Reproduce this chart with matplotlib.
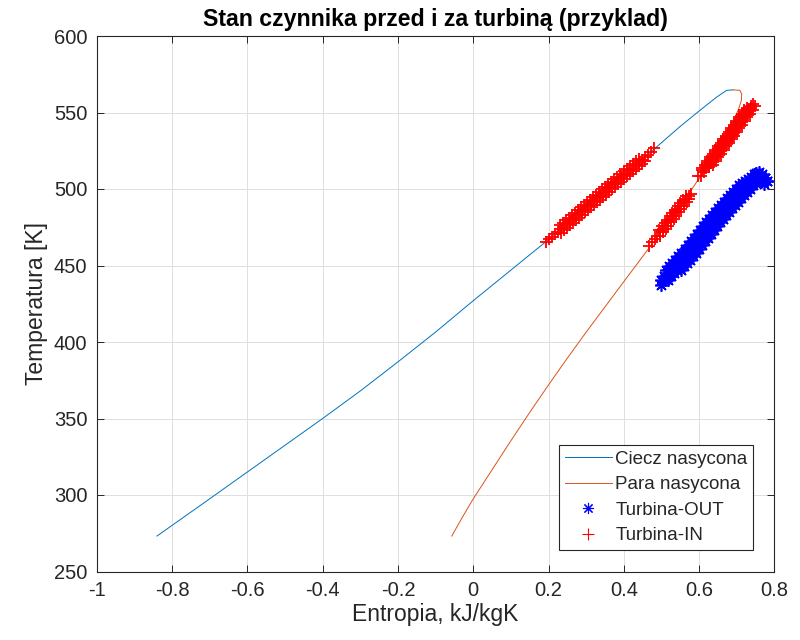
import matplotlib
matplotlib.use("Agg")
import matplotlib.pyplot as plt

plt.rcParams['font.family'] = ['Liberation Sans', 'DejaVu Sans']

# ---- saturated liquid / vapour curves ----
s_liq = [-0.84, -0.70, -0.60, -0.50, -0.40, -0.30, -0.20, -0.10, 0.00, 0.10,
         0.20, 0.30, 0.40, 0.48, 0.55, 0.60, 0.646, 0.673, 0.69]
T_liq = [273.15, 297.5, 315, 332.5, 350, 368, 387, 406.5, 427, 447,
         467, 488, 509, 526, 541, 551, 560, 564.5, 564.8]

s_vap = [-0.057, -0.03, 0.00, 0.05, 0.10, 0.15, 0.20, 0.25, 0.30, 0.35,
         0.40, 0.47, 0.52, 0.56, 0.60, 0.65, 0.69, 0.705, 0.712, 0.713,
         0.708, 0.69]
T_vap = [273.15, 285, 297.5, 316.5, 335.5, 354, 372, 389.5, 406.5, 423,
         439.5, 462.5, 479, 492.5, 507, 527, 544, 552.5, 558, 562,
         564.5, 564.8]

# ---- Turbina-OUT (blue asterisks) ----
s_out = [
    # centre row
    0.498, 0.508, 0.516, 0.524, 0.532, 0.540, 0.548, 0.556, 0.564, 0.572,
    0.580, 0.588, 0.596, 0.604, 0.612, 0.620, 0.628, 0.636, 0.644, 0.652,
    0.660, 0.668, 0.676, 0.684, 0.692, 0.700, 0.708, 0.716, 0.724, 0.732,
    0.740, 0.748, 0.756, 0.764,
    # inner left row
    0.499, 0.507, 0.515, 0.523, 0.531, 0.539, 0.547, 0.555, 0.563, 0.571,
    0.579, 0.587, 0.595, 0.603, 0.611, 0.619, 0.627, 0.635, 0.643, 0.651,
    0.659, 0.667, 0.675, 0.683, 0.691, 0.699, 0.707, 0.715, 0.723, 0.731,
    0.739, 0.747, 0.755,
    # inner right row
    0.517, 0.525, 0.533, 0.541, 0.549, 0.557, 0.565, 0.573, 0.581, 0.589,
    0.597, 0.605, 0.613, 0.621, 0.629, 0.637, 0.645, 0.653, 0.661, 0.669,
    0.677, 0.685, 0.693, 0.701, 0.709, 0.717, 0.725, 0.733, 0.741, 0.749,
    0.757, 0.765, 0.773,
    # outer left row
    0.513, 0.521, 0.529, 0.537, 0.545, 0.553, 0.561, 0.569, 0.577,
    0.585, 0.593, 0.601, 0.609, 0.617, 0.625, 0.633, 0.641, 0.649, 0.657,
    0.665, 0.673, 0.681, 0.689, 0.697, 0.705, 0.713, 0.721, 0.729, 0.737,
    0.745,
    # outer right row
    0.551, 0.559, 0.567, 0.575, 0.583, 0.591, 0.599, 0.607, 0.615,
    0.623, 0.631, 0.639, 0.647, 0.655, 0.663, 0.671, 0.679, 0.687, 0.695,
    0.703, 0.711, 0.719, 0.727, 0.735, 0.743, 0.751, 0.759, 0.767, 0.775,
    0.780,
    # rounded top end
    0.745, 0.752, 0.760, 0.768, 0.775, 0.780, 0.772, 0.764,
]
T_out = [
    437.5, 440.5, 443.0, 445.0, 447.2, 449.4, 451.6, 453.8, 456.0, 458.2,
    460.5, 463.2, 465.7, 468.3, 470.9, 473.4, 476.0, 478.3, 480.5, 482.8,
    485.1, 487.3, 489.6, 491.8, 494.0, 496.1, 498.2, 500.3, 502.5, 504.0,
    505.3, 506.7, 508.0, 507.0,
    440.5, 443.0, 445.0, 447.2, 449.4, 451.6, 453.8, 456.0, 458.2, 460.5,
    463.2, 465.7, 468.3, 470.9, 473.4, 476.0, 478.3, 480.5, 482.8, 485.1,
    487.3, 489.6, 491.8, 494.0, 496.1, 498.2, 500.3, 502.5, 504.0, 505.3,
    506.7, 508.0, 507.0,
    440.5, 443.0, 445.0, 447.2, 449.4, 451.6, 453.8, 456.0, 458.2, 460.5,
    463.2, 465.7, 468.3, 470.9, 473.4, 476.0, 478.3, 480.5, 482.8, 485.1,
    487.3, 489.6, 491.8, 494.0, 496.1, 498.2, 500.3, 502.5, 504.0, 505.3,
    506.7, 508.0, 507.0,
    447.2, 449.4, 451.6, 453.8, 456.0, 458.2, 460.5, 463.2, 465.7,
    468.3, 470.9, 473.4, 476.0, 478.3, 480.5, 482.8, 485.1, 487.3, 489.6,
    491.8, 494.0, 496.1, 498.2, 500.3, 502.5, 504.0, 505.3, 506.7, 508.0,
    507.0,
    447.2, 449.4, 451.6, 453.8, 456.0, 458.2, 460.5, 463.2, 465.7,
    468.3, 470.9, 473.4, 476.0, 478.3, 480.5, 482.8, 485.1, 487.3, 489.6,
    491.8, 494.0, 496.1, 498.2, 500.3, 502.5, 504.0, 505.3, 506.7, 507.5,
    505.5,
    509.5, 510.5, 511.0, 510.0, 507.5, 505.0, 503.0, 504.5,
]

# ---- Turbina-IN (red pluses) ----
s_in = [
    # cluster on liquid line, row A
    0.192, 0.200, 0.208, 0.216, 0.224, 0.232, 0.240, 0.248, 0.256, 0.264,
    0.272, 0.280, 0.288, 0.296, 0.304, 0.312, 0.320, 0.328, 0.336, 0.344,
    0.352, 0.360, 0.368, 0.376, 0.384, 0.392, 0.400, 0.408, 0.416, 0.424,
    0.432, 0.440, 0.448, 0.456, 0.464, 0.472, 0.480,
    # row B (lower right)
    0.233, 0.241, 0.249, 0.257, 0.265, 0.273, 0.281, 0.289, 0.297, 0.305,
    0.313, 0.321, 0.329, 0.337, 0.345, 0.353, 0.361, 0.369, 0.377, 0.385,
    0.393, 0.401, 0.409, 0.417, 0.425, 0.433, 0.441, 0.449, 0.457,
    # row C (upper left)
    0.231, 0.239, 0.247, 0.255, 0.263, 0.271, 0.279, 0.287, 0.295, 0.303,
    0.311, 0.319, 0.327, 0.335, 0.343, 0.351, 0.359, 0.367, 0.375, 0.383,
    0.391, 0.399, 0.407, 0.415, 0.423, 0.431, 0.439,
    # cluster on vapour line
    0.468, 0.475, 0.482, 0.489, 0.496, 0.503, 0.510, 0.517, 0.524, 0.531,
    0.538, 0.545, 0.552, 0.559, 0.566, 0.573, 0.578,
    0.497, 0.504, 0.511, 0.518, 0.525, 0.532, 0.539, 0.546, 0.553, 0.560,
    0.567, 0.574,
    0.494, 0.501, 0.508, 0.515, 0.522, 0.529, 0.536, 0.543, 0.550, 0.557,
    0.564,
    # superheated cluster, centre row
    0.598, 0.605, 0.612, 0.619, 0.626, 0.633, 0.640, 0.647, 0.654, 0.661,
    0.668, 0.675, 0.682, 0.689, 0.696, 0.703, 0.710, 0.717, 0.724, 0.731,
    0.738, 0.744,
    # superheated cluster, left row
    0.608, 0.615, 0.622, 0.629, 0.636, 0.643, 0.650, 0.657, 0.664, 0.671,
    0.678, 0.685, 0.692, 0.699, 0.706, 0.713, 0.720,
    # superheated cluster, right row
    0.637, 0.644, 0.651, 0.658, 0.665, 0.672, 0.679, 0.686, 0.693, 0.700,
    0.707, 0.714, 0.721, 0.728, 0.735, 0.742, 0.749,
    # superheated cluster, in-between rows
    0.6075, 0.6145, 0.6215, 0.6285, 0.6355, 0.6425, 0.6495, 0.6565, 0.6635,
    0.6705, 0.6775, 0.6845, 0.6915, 0.6985, 0.7055, 0.7125, 0.7195, 0.7265,
    0.6255, 0.6325, 0.6395, 0.6465, 0.6535, 0.6605, 0.6675, 0.6745, 0.6815,
    0.6885, 0.6955, 0.7025, 0.7095, 0.7165, 0.7235, 0.7305, 0.7375,
]
T_in = [
    465.3, 467.0, 468.7, 470.4, 472.0, 473.7, 475.4, 477.1, 478.8, 480.4,
    482.1, 483.8, 485.5, 487.2, 488.8, 490.5, 492.2, 493.9, 495.6, 497.2,
    498.9, 500.6, 502.3, 504.0, 505.6, 507.3, 509.0, 510.7, 512.4, 514.0,
    515.7, 517.4, 519.1, 520.8, 522.4, 524.1, 526.5,
    471.2, 472.9, 474.6, 476.3, 478.0, 479.6, 481.3, 483.0, 484.7, 486.4,
    488.0, 489.7, 491.4, 493.1, 494.8, 496.4, 498.1, 499.8, 501.5, 503.2,
    504.8, 506.5, 508.2, 509.9, 511.6, 513.2, 514.9, 516.6, 518.3,
    476.2, 477.9, 479.6, 481.3, 482.9, 484.6, 486.3, 488.0, 489.7, 491.3,
    493.0, 494.7, 496.4, 498.1, 499.7, 501.4, 503.1, 504.8, 506.5, 508.1,
    509.8, 511.5, 513.2, 514.9, 516.5, 518.2, 519.9,
    463.0, 465.2, 467.3, 469.5, 471.7, 473.8, 476.0, 478.2, 480.3, 482.5,
    484.7, 486.8, 489.0, 491.2, 493.3, 495.5, 497.0,
    469.5, 471.7, 473.8, 476.0, 478.2, 480.3, 482.5, 484.7, 486.8, 489.0,
    491.2, 493.3,
    473.5, 475.6, 477.8, 480.0, 482.1, 484.3, 486.5, 488.6, 490.8, 493.0,
    495.1,
    508.6, 508.6, 511.0, 513.4, 515.8, 518.2, 520.6, 523.0, 525.4, 527.8,
    530.2, 532.5, 534.9, 537.3, 539.7, 542.1, 544.5, 546.9, 549.3, 551.7,
    554.1, 555.5,
    513.4, 515.8, 518.2, 520.6, 523.0, 525.4, 527.8, 530.2, 532.5, 534.9,
    537.3, 539.7, 542.1, 544.5, 546.9, 549.3, 551.7,
    515.8, 518.2, 520.6, 523.0, 525.4, 527.8, 530.2, 532.5, 534.9, 537.3,
    539.7, 542.1, 544.5, 546.9, 549.3, 551.7, 554.1,
    512.2, 514.6, 517.0, 519.4, 521.8, 524.2, 526.6, 529.0, 531.4,
    533.7, 536.1, 538.5, 540.9, 543.3, 545.7, 548.1, 550.5, 552.9,
    514.6, 517.0, 519.4, 521.8, 524.2, 526.6, 529.0, 531.4, 533.7,
    536.1, 538.5, 540.9, 543.3, 545.7, 548.1, 550.5, 552.9,
]

x_ticks = [-1, -0.8, -0.6, -0.4, -0.2, 0, 0.2, 0.4, 0.6, 0.8]
x_ticklabels = ['-1', '-0.8', '-0.6', '-0.4', '-0.2', '0', '0.2', '0.4', '0.6', '0.8']
y_ticks = [250, 300, 350, 400, 450, 500, 550, 600]

title = 'Stan czynnika przed i za turbiną (przyklad)'
xlabel = 'Entropia, kJ/kgK'
ylabel = 'Temperatura [K]'
labels = ['Ciecz nasycona', 'Para nasycona', 'Turbina-OUT', 'Turbina-IN']

TXT = '#262626'

fig = plt.figure(figsize=(8, 6.4), dpi=100)
ax = fig.add_axes([96.7 / 800, (640 - 571.5) / 640, (774.5 - 96.7) / 800, (571.5 - 36) / 640])

ax.plot(s_liq, T_liq, color='#0072BD', lw=0.7, label=labels[0])
ax.plot(s_vap, T_vap, color='#D95319', lw=0.7, label=labels[1])
ax.plot(s_out, T_out, linestyle='none', marker=(8, 2, 0), color='#0000FF',
        markersize=9, markeredgewidth=1.2, label=labels[2])
ax.plot(s_in, T_in, linestyle='none', marker='+', color='#FF0000',
        markersize=9, markeredgewidth=1.3, label=labels[3])

ax.set_xlim(-1, 0.8)
ax.set_ylim(250, 600)
ax.set_xticks(x_ticks)
ax.set_xticklabels(x_ticklabels)
ax.set_yticks(y_ticks)
ax.grid(True, color='#dfdfdf', linewidth=0.7)
ax.set_axisbelow(True)
ax.tick_params(direction='in', length=5, width=0.7, colors=TXT, labelsize=14.5,
               top=True, right=True, pad=6.8)
for sp in ax.spines.values():
    sp.set_color(TXT)
    sp.set_linewidth(0.8)

ax.set_title(title, fontsize=16.7, fontweight='bold', color='black', pad=7)
ax.set_xlabel(xlabel, fontsize=16.5, color=TXT, labelpad=2)
ax.set_ylabel(ylabel, fontsize=16.5, color=TXT, labelpad=4)

leg = ax.legend(loc='lower right', bbox_to_anchor=(0.9687, 0.0401), borderaxespad=0,
                fontsize=13.5, fancybox=False, framealpha=1, edgecolor=TXT,
                handlelength=2.5, handletextpad=0.2, labelspacing=0.45, borderpad=0.3)
leg.get_frame().set_linewidth(0.8)
for t in leg.get_texts():
    t.set_color(TXT)
for h in leg.legend_handles[2:]:
    h.set_markeredgewidth(0.8)
    h.set_markersize(8)

fig.savefig('out.png', dpi=100, facecolor='white')
